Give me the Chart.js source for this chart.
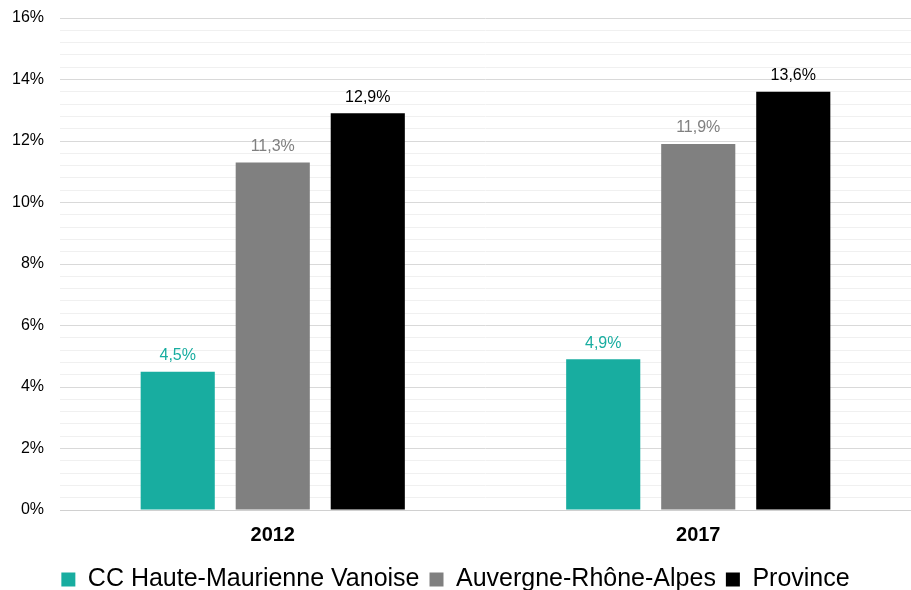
<!DOCTYPE html>
<html><head><meta charset="utf-8">
<script src="https://cdn.jsdelivr.net/npm/chart.js@4/dist/chart.umd.min.js"></script>
<style>html,body{margin:0;padding:0;background:#fff}#wrap{width:911px;height:590px}</style>
</head><body><div id="wrap"><canvas id="c"></canvas></div>
<script>
const categories = ['2012', '2017'];
const seriesNames = ['CC Haute-Maurienne Vanoise', 'Auvergne-Rhône-Alpes', 'Province'];
const ccHMV = [4.5, 4.9];
const auraValues = [11.3, 11.9];
const provinceValues = [12.9, 13.6];
const colors = ['#18ada0', '#808080', '#000000'];
const FONT = "'Liberation Sans', Arial, sans-serif";

const labelPlugin = {
  id: 'valueLabels',
  afterDatasetsDraw(chart) {
    const ctx = chart.ctx;
    ctx.save();
    ctx.font = '16px ' + FONT;
    ctx.textAlign = 'center';
    ctx.textBaseline = 'bottom';
    chart.data.datasets.forEach((ds, i) => {
      const meta = chart.getDatasetMeta(i);
      ctx.fillStyle = ds.labelColor;
      meta.data.forEach((bar, j) => {
        ctx.fillText(ds.data[j].toFixed(1).replace('.', ',') + '%', bar.x, bar.y - 8);
      });
    });
    ctx.restore();
  }
};

new Chart(document.getElementById('c'), {
  type: 'bar',
  data: {
    labels: categories,
    datasets: [
      { label: seriesNames[0], data: ccHMV, backgroundColor: colors[0], labelColor: colors[0] },
      { label: seriesNames[1], data: auraValues, backgroundColor: colors[1], labelColor: colors[1] },
      { label: seriesNames[2], data: provinceValues, backgroundColor: colors[2], labelColor: colors[2] }
    ]
  },
  options: {
    responsive: true,
    maintainAspectRatio: false,
    animation: false,
    categoryPercentage: 0.67,
    barPercentage: 0.78,
    layout: { padding: { top: 18, right: 0, left: 0, bottom: -12 } },
    plugins: {
      legend: {
        position: 'bottom',
        labels: {
          font: { family: FONT, size: 25 },
          color: '#000',
          boxWidth: 14,
          boxHeight: 14,
          padding: 10
        }
      },
      tooltip: { enabled: false }
    },
    scales: {
      x: {
        afterFit(s) { s.height = 47; },
        grid: { display: false, drawTicks: false },
        border: { display: true, color: '#d0d0d0', width: 1 },
        ticks: { font: { family: FONT, size: 20, weight: 'bold' }, color: '#000', padding: 13 }
      },
      y: {
        min: 0, max: 16,
        afterFit(s) { s.width = 60; s.paddingTop = 0; s.paddingBottom = 0; },
        border: { display: false },
        grid: {
          drawTicks: false,
          color(ctx) {
            const v = ctx.tick ? ctx.tick.value : 0;
            return Math.abs(v / 2 - Math.round(v / 2)) < 1e-6 ? '#d9d9d9' : '#f0f0f0';
          },
          lineWidth: 1
        },
        ticks: {
          stepSize: 0.4,
          autoSkip: false,
          padding: 16,
          color: '#000',
          font: { family: FONT, size: 16 },
          callback(v) {
            return Math.abs(v / 2 - Math.round(v / 2)) < 1e-6 ? Math.round(v) + '%' : '';
          }
        }
      }
    }
  },
  plugins: [labelPlugin]
});
</script>
</body></html>
